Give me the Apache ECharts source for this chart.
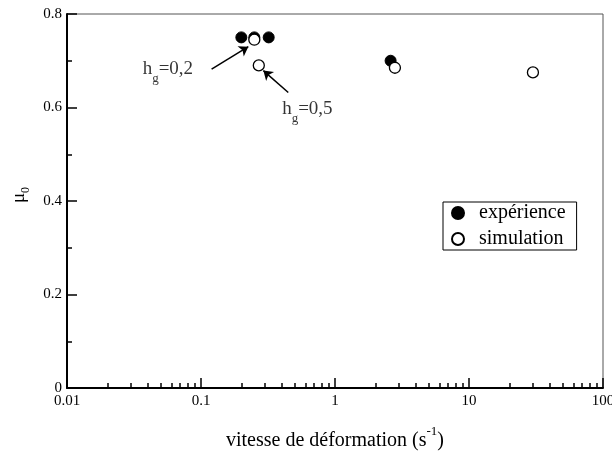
<!DOCTYPE html>
<html>
<head>
<meta charset="utf-8">
<script src="https://cdn.jsdelivr.net/npm/echarts@6/dist/echarts.min.js"></script>
<style>html,body{margin:0;padding:0;background:#fff;}#c{width:612px;height:452px;}</style>
</head>
<body>
<div id="c"></div>
<script>
// ---- data ----
const expX = [0.2, 0.25, 0.32, 2.6];
const expY = [0.75, 0.75, 0.75, 0.70];
const simX = [0.25, 0.27, 2.8, 30];
const simY = [0.745, 0.69, 0.685, 0.675];
const xMajorTicks = [0.01, 0.1, 1, 10, 100];
const xMinorTicks = [
  0.02,0.03,0.04,0.05,0.06,0.07,0.08,0.09,
  0.2,0.3,0.4,0.5,0.6,0.7,0.8,0.9,
  2,3,4,5,6,7,8,9,
  20,30,40,50,60,70,80,90
];
const yTicks = [0, 0.2, 0.4, 0.6, 0.8];
const seriesNames = ['expérience', 'simulation'];
// annotation labels (data coords of label centre) and arrows (from -> to, data coords)
const annotLabels = [
  {x: 0.0566, y: 0.681, h: 'h', sub: 'g', rest: '=0,2'},
  {x: 0.622, y: 0.595, h: 'h', sub: 'g', rest: '=0,5'}
];
const annotArrows = [
  [[0.12, 0.682], [0.2255, 0.730]],
  [[0.448, 0.632], [0.292, 0.679]]
];

const FONT = 'Liberation Serif';
const chart = echarts.init(document.getElementById('c'), null, {renderer: 'canvas'});

const zip = (xs, ys) => xs.map((x, i) => [x, ys[i]]);

const option = {
  animation: false,
  backgroundColor: '#fff',
  textStyle: {fontFamily: FONT, color: '#000'},
  grid: {left: 67, right: 9, top: 14, bottom: 64, containLabel: false, outerBoundsMode: 'none',
    show: true, borderColor: '#555', borderWidth: 1, backgroundColor: 'transparent'},
  legend: {
    orient: 'vertical',
    left: 443, top: 202,
    padding: [1, 11, 1, 8],
    itemGap: 6,
    itemWidth: 12, itemHeight: 12,
    borderColor: '#000', borderWidth: 1,
    borderRadius: 0,
    backgroundColor: '#fff',
    data: seriesNames,
    textStyle: {fontFamily: FONT, fontSize: 20, lineHeight: 20, color: '#000', padding: [0, 0, 0, 10]}
  },
  xAxis: [
    {
      type: 'log', logBase: 10, min: 0.01, max: 100,
      name: '{a|vitesse de déformation (s}{b|-1}{a|)}',
      nameLocation: 'middle', nameGap: 37,
      nameTextStyle: {
        rich: {
          a: {fontFamily: FONT, fontSize: 20, color: '#000', lineHeight: 20, padding: [6, 0, 0, 0], verticalAlign: 'top'},
          b: {fontFamily: FONT, fontSize: 13, color: '#000', lineHeight: 13, verticalAlign: 'top'}
        }
      },
      axisLine: {show: true, onZero: false, lineStyle: {color: '#000', width: 2}},
      axisTick: {show: true, inside: true, length: 10, lineStyle: {color: '#000', width: 1.5}, customValues: xMajorTicks},
      axisLabel: {show: true, fontFamily: FONT, fontSize: 15, color: '#000', margin: 6, customValues: xMajorTicks,
        formatter: v => String(+(+v).toPrecision(6))},
      splitLine: {show: false}, minorTick: {show: false}
    },
    {
      type: 'log', logBase: 10, min: 0.01, max: 100, position: 'bottom',
      axisLine: {show: false},
      axisTick: {show: true, inside: true, length: 5, lineStyle: {color: '#000', width: 1.5}, customValues: xMinorTicks},
      axisLabel: {show: false}, splitLine: {show: false}
    }
  ],
  yAxis: {
    type: 'value', min: 0, max: 0.8, interval: 0.2,
    name: '{a|μ}{b|0}',
    nameLocation: 'middle', nameGap: 38, nameRotate: 90,
    nameTextStyle: {
      padding: [0, 0, 0, 12],
      rich: {
        a: {fontFamily: FONT, fontSize: 19, color: '#000', lineHeight: 19, verticalAlign: 'top'},
        b: {fontFamily: FONT, fontSize: 12, color: '#000', lineHeight: 12, padding: [10, 0, 0, 0], verticalAlign: 'top'}
      }
    },
    axisLine: {show: true, lineStyle: {color: '#000', width: 2}},
    axisTick: {show: true, inside: true, length: 10, lineStyle: {color: '#000', width: 1.5}},
    minorTick: {show: true, splitNumber: 2, length: 5, lineStyle: {color: '#000', width: 1.5}},
    axisLabel: {fontFamily: FONT, fontSize: 15, color: '#000', margin: 5,
      formatter: v => yTicks.indexOf(+(+v).toFixed(4)) >= 0 ? String(+(+v).toFixed(4)) : ''},
    splitLine: {show: false}
  },
  series: [
    {
      name: seriesNames[0], type: 'scatter', xAxisIndex: 0,
      symbol: 'circle', symbolSize: 11,
      itemStyle: {color: '#000', borderColor: '#000', borderWidth: 1, opacity: 1},
      data: zip(expX, expY), z: 3
    },
    {
      name: seriesNames[1], type: 'scatter', xAxisIndex: 0,
      symbol: 'circle', symbolSize: 11,
      itemStyle: {color: '#fff', borderColor: '#000', borderWidth: 1.3, opacity: 1},
      data: zip(simX, simY), z: 4
    },
    {
      name: 'annotations', type: 'scatter', xAxisIndex: 0,
      symbolSize: 0, silent: true,
      data: annotLabels.map(a => ({value: [a.x, a.y], label: {formatter: '{a|' + a.h + '}{b|' + a.sub + '}{a|' + a.rest + '}'}})),
      label: {
        show: true, position: 'inside', align: 'center', verticalAlign: 'middle',
        rich: {
          a: {fontFamily: FONT, fontSize: 19, color: '#000', lineHeight: 20, verticalAlign: 'top'},
          b: {fontFamily: FONT, fontSize: 13, color: '#000', lineHeight: 13, padding: [12.5, 0, 0, 0], verticalAlign: 'top'}
        }
      },
      markLine: {
        silent: true, animation: false,
        symbol: ['none', 'arrow'], symbolSize: 9,
        label: {show: false},
        lineStyle: {color: '#000', width: 1.5, type: 'solid'},
        data: annotArrows.map(a => [{coord: a[0]}, {coord: a[1]}])
      },
      z: 5
    }
  ]
};
chart.setOption(option);
</script>
</body>
</html>
